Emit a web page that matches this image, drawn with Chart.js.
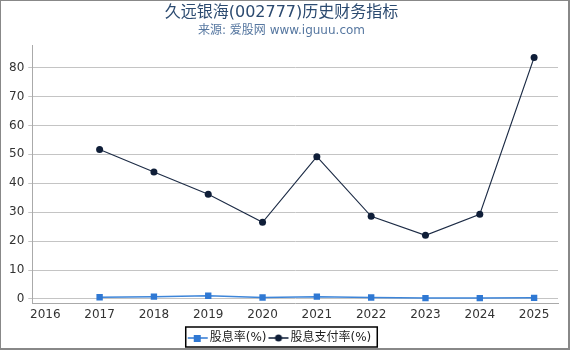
<!DOCTYPE html>
<html>
<head>
<meta charset="utf-8">
<script src="https://cdn.jsdelivr.net/npm/chart.js@4/dist/chart.umd.min.js"></script>
<style>
  html, body { margin: 0; padding: 0; background: #fff; }
  #wrap {
    position: relative; width: 570px; height: 350px; box-sizing: border-box;
    border-top: 1px solid #888; border-left: 1px solid #888;
    border-right: 2px solid #888; border-bottom: 2px solid #888;
  }
  canvas { display: block; }
</style>
</head>
<body>
<div id="wrap"><canvas id="chart" width="567" height="347"></canvas></div>
<script>
// years and series
const years = [2017, 2018, 2019, 2020, 2021, 2022, 2023, 2024, 2025];
const dividendYield = [0.6, 0.8, 1.1, 0.5, 0.8, 0.5, 0.3, 0.3, 0.4];
const payoutRatio = [51.7, 43.9, 36.2, 26.5, 49.2, 28.6, 22.0, 29.3, 83.5];
const seriesNames = ['股息率(%)', '股息支付率(%)'];
const xTicks = [2016, 2017, 2018, 2019, 2020, 2021, 2022, 2023, 2024, 2025];
const yTicks = [0, 10, 20, 30, 40, 50, 60, 70, 80];

const FONT = "'DejaVu Sans', 'Noto Sans CJK SC', sans-serif";

function legendIcon(color, shape) {
  const c = document.createElement('canvas');
  c.width = 22; c.height = 10;
  const g = c.getContext('2d');
  g.strokeStyle = color; g.lineWidth = 1.5;
  g.beginPath(); g.moveTo(1, 5); g.lineTo(21, 5); g.stroke();
  g.fillStyle = color;
  if (shape === 'rect') g.fillRect(7, 2, 7, 7);
  else { g.beginPath(); g.arc(11, 5, 3.5, 0, Math.PI * 2); g.fill(); }
  return c;
}

const legendBorder = {
  id: 'legendBorder',
  afterDraw(chart) {
    const boxes = chart.legend.legendHitBoxes;
    if (!boxes || !boxes.length) return;
    const left = Math.min(...boxes.map(b => b.left)) - 6;
    const right = Math.max(...boxes.map(b => b.left + b.width)) + 6;
    const top = Math.min(...boxes.map(b => b.top)) - 5;
    const bottom = Math.min(Math.max(...boxes.map(b => b.top + b.height)) + 5, chart.height - 1);
    const ctx = chart.ctx;
    ctx.save();
    ctx.strokeStyle = '#000';
    ctx.lineWidth = 1.5;
    ctx.strokeRect(left, top, right - left, bottom - top);
    ctx.restore();
  }
};

new Chart(document.getElementById('chart'), {
  type: 'line',
  data: {
    datasets: [{
      label: seriesNames[0],
      data: years.map((y, i) => ({ x: y, y: dividendYield[i] })),
      borderColor: '#3d85d9',
      backgroundColor: '#2f78d3',
      borderWidth: 1.5,
      pointStyle: 'rect',
      pointRadius: 4.5,
      pointBorderWidth: 0
    }, {
      label: seriesNames[1],
      data: years.map((y, i) => ({ x: y, y: payoutRatio[i] })),
      borderColor: '#1c2b45',
      backgroundColor: '#0f1e38',
      borderWidth: 1.1,
      pointStyle: 'circle',
      pointRadius: 3.5,
      pointBorderWidth: 0
    }]
  },
  options: {
    responsive: false,
    animation: false,
    layout: { padding: { left: 4, right: 10, top: 0, bottom: -6 } },
    plugins: {
      title: {
        display: true,
        text: '久远银海(002777)历史财务指标',
        color: '#2b4a70',
        font: { family: FONT, size: 16, weight: 'normal' },
        padding: { top: 2, bottom: 0 }
      },
      subtitle: {
        display: true,
        text: '来源: 爱股网 www.iguuu.com',
        color: '#5677a0',
        font: { family: FONT, size: 12 },
        padding: { top: 1, bottom: 8 }
      },
      legend: {
        position: 'bottom',
        labels: {
          usePointStyle: true,
          color: '#222',
          font: { family: FONT, size: 12 },
          padding: 6,
          generateLabels(chart) {
            return chart.data.datasets.map((ds, i) => ({
              text: ds.label,
              fontColor: '#222',
              pointStyle: legendIcon(ds.backgroundColor, ds.pointStyle),
              datasetIndex: i,
              hidden: false,
              lineWidth: 0
            }));
          }
        }
      },
      tooltip: { enabled: false }
    },
    scales: {
      x: {
        type: 'linear',
        min: 2015.76,
        max: 2025.44,
        ticks: {
          color: '#333',
          font: { family: FONT, size: 12 },
          padding: 4,
          callback: v => String(v)
        },
        afterBuildTicks: scale => {
          scale.ticks = xTicks.map(v => ({ value: v }));
        },
        grid: { display: false, drawTicks: false },
        border: { display: true, color: '#aaa' }
      },
      y: {
        min: -1.6,
        max: 87.6,
        ticks: {
          color: '#333',
          font: { family: FONT, size: 12 },
          padding: 4
        },
        afterBuildTicks: scale => {
          scale.ticks = yTicks.map(v => ({ value: v }));
        },
        grid: { color: '#c4c4c4', tickLength: 4 },
        border: { display: true, color: '#aaa' }
      }
    }
  },
  plugins: [legendBorder]
});
</script>
</body>
</html>
